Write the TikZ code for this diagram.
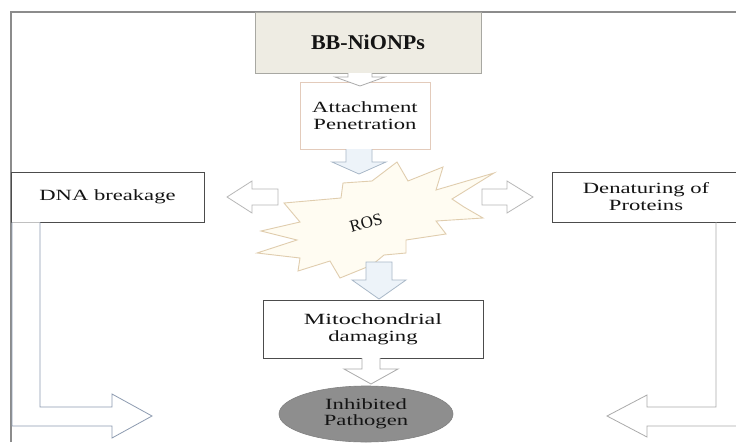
\documentclass[tikz,border=0pt]{standalone}
\usepackage{fontspec}
\setmainfont{Liberation Serif}
\usepackage{graphicx}
\usetikzlibrary{shapes.geometric}
\definecolor{framec}{HTML}{8C8C8C}
\definecolor{txtc}{HTML}{141414}
\definecolor{bbfill}{HTML}{EEECE3}
\definecolor{bbdraw}{HTML}{A8A8A2}
\definecolor{attdraw}{HTML}{E3CBBB}
\definecolor{boxdraw}{HTML}{4C4C4C}
\definecolor{arrc}{HTML}{ABABAB}
\definecolor{barrc}{HTML}{A9B8C8}
\definecolor{bfill}{HTML}{EDF3F9}
\definecolor{rosfill}{HTML}{FFFCF2}
\definecolor{rosdraw}{HTML}{E0CDAE}
\definecolor{ellfill}{HTML}{8E8E8E}
\definecolor{bentl}{HTML}{8D9BB0}
\newcommand\wtxt[1]{\scalebox{1.45}[1]{#1}}
\begin{document}
\begin{tikzpicture}[x=1pt,y=-1pt,
  box/.style={draw=boxdraw, line width=0.8pt, fill=white, inner sep=0pt,
    text=txtc, font=\fontsize{15.6}{17}\selectfont, align=center},
  blk/.style={draw=arrc, line width=0.8pt, fill=white, line join=miter},
  bblk/.style={draw=barrc, line width=0.8pt, fill=bfill, line join=miter}]
\useasboundingbox (0,0) rectangle (736,442);
\fill[white] (0,0) rectangle (736,442);
% frame
\draw[framec, line width=1.3pt] (11,442) -- (11,12) -- (740,12);

% ROS starburst
\draw[draw=rosdraw, fill=rosfill, line width=0.9pt, line join=miter]
  (397,162) -- (408,181) -- (443,167) -- (436,190) -- (494,173) -- (452,199)
  -- (464,207) -- (483,218) -- (436,221) -- (446,234) -- (406,240) -- (406,253)
  -- (384,255) -- (372,265) -- (340,278) -- (330,261) -- (298,271) -- (300,258)
  -- (257,253) -- (297,240) -- (261,231) -- (300,222) -- (284,203) -- (341,198)
  -- (343,183) -- (372,181) -- cycle;
\node[rotate=15, text=txtc, font=\fontsize{17}{19}\selectfont, inner sep=1pt]
  (ros) at (366,223) {ROS};

% boxes
\node[box, draw=bbdraw, fill=bbfill, minimum width=226pt, minimum height=61pt,
  font=\fontsize{21}{24}\bfseries] (bb) at (368,42.5) {\scalebox{1.05}[1]{BB-NiONPs}};
\node[box, draw=attdraw, minimum width=130pt, minimum height=67pt] (att) at (365,115.5)
  {\wtxt{Attachment}\\\wtxt{Penetration}};
\node[box, minimum width=193pt, minimum height=50pt] (dna) at (107.5,197)
  {\wtxt{DNA breakage}};
\node[box, minimum width=188pt, minimum height=50pt] (den) at (646,197)
  {\wtxt{Denaturing of}\\\wtxt{Proteins}};
\node[box, minimum width=220pt, minimum height=58pt] (mito) at (373,329)
  {\scalebox{1.55}[1]{Mitochondrial}\\\wtxt{damaging}};
\node[ellipse, draw=ellfill!90!black, fill=ellfill, line width=0.6pt,
  minimum width=174pt, minimum height=56pt, inner sep=0pt, text=txtc,
  font=\fontsize{15.6}{15.6}\selectfont, align=center] (path) at (366,414)
  {\wtxt{Inhibited}\\\wtxt{Pathogen}};

% block arrows (vertical)
\draw[blk] (348,73) -- (348,77) -- (335,77) -- (360,86) -- (385,77) -- (372,77) -- (372,73);
\draw[bblk] (346,149) -- (346,162) -- (332,162) -- (359,174) -- (386,162) -- (372,162) -- (372,149);
\draw[bblk] (366,262) -- (366,280) -- (352,280) -- (379,299) -- (406,280) -- (392,280) -- (392,262) -- cycle;
\draw[blk] (362,358) -- (362,369) -- (344,369) -- (371,384) -- (398,369) -- (380,369) -- (380,358);
% block arrows (horizontal)
\draw[blk, draw=arrc!85] (278,189) -- (252,189) -- (252,181) -- (227,197) -- (252,213) -- (252,205) -- (278,205) -- cycle;
\draw[blk, draw=arrc!85] (482,189) -- (507,189) -- (507,181) -- (533,197) -- (507,213) -- (507,205) -- (482,205) -- cycle;
% bent arrows
\draw[blk, draw=bentl] (12,222.4) -- (12,426) -- (112,426) -- (112,438) -- (152,416)
  -- (112,394) -- (112,407) -- (40,407) -- (40,222.4);
\draw[blk] (716,222.4) -- (716,407) -- (647,407) -- (647,395) -- (607,416)
  -- (647,437) -- (647,426) -- (740,426);
\end{tikzpicture}
\end{document}
